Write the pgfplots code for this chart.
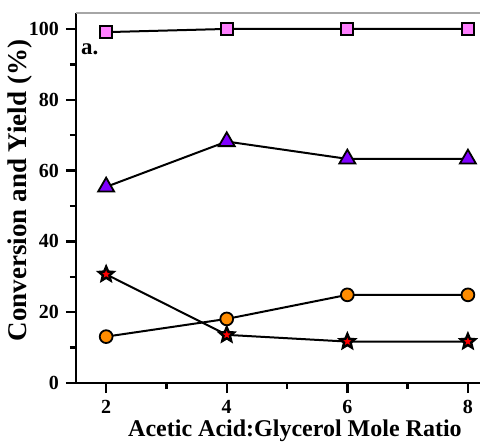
\documentclass[border=0pt]{standalone}
\usepackage{fontspec}
\setmainfont{Liberation Serif}
\usepackage{pgfplots}
\pgfplotsset{compat=1.18}
\definecolor{sqpink}{HTML}{FF80FF}
\definecolor{tripurple}{HTML}{8000FF}
\definecolor{circorange}{HTML}{FF8C00}
\pgfdeclareplotmark{fstar}{%
  \pgfpathmoveto{\pgfqpointpolar{90}{\pgfplotmarksize}}%
  \pgfpathlineto{\pgfqpointpolar{126}{0.45\pgfplotmarksize}}%
  \pgfpathlineto{\pgfqpointpolar{162}{\pgfplotmarksize}}%
  \pgfpathlineto{\pgfqpointpolar{198}{0.45\pgfplotmarksize}}%
  \pgfpathlineto{\pgfqpointpolar{234}{\pgfplotmarksize}}%
  \pgfpathlineto{\pgfqpointpolar{270}{0.45\pgfplotmarksize}}%
  \pgfpathlineto{\pgfqpointpolar{306}{\pgfplotmarksize}}%
  \pgfpathlineto{\pgfqpointpolar{342}{0.45\pgfplotmarksize}}%
  \pgfpathlineto{\pgfqpointpolar{18}{\pgfplotmarksize}}%
  \pgfpathlineto{\pgfqpointpolar{54}{0.45\pgfplotmarksize}}%
  \pgfpathclose
  \pgfusepathqfillstroke}
\begin{document}
\begin{tikzpicture}
\begin{axis}[
  scale only axis, width=202pt, height=185pt,
  xmin=1.5, xmax=8.2, ymin=0, ymax=104.5,
  axis x line*=bottom, axis y line*=left,
  axis line style={line width=1.2pt, -},
  xtick={2,4,6,8}, ytick={0,20,40,60,80,100},
  minor x tick num=1, minor y tick num=1,
  tick align=outside,
  major tick length=5pt, minor tick length=3pt,
  every tick/.style={black, line width=1.2pt},
  /pgf/number format/assume math mode=true,
  ticklabel style={font=\bfseries\fontsize{10}{12}\selectfont},
  xlabel={Acetic Acid:Glycerol Mole Ratio},
  ylabel={Conversion and Yield (\%)},
  xlabel style={font=\bfseries\fontsize{12}{14}\selectfont, at={(axis description cs:0.542,-0.13)}, anchor=center},
  ylabel style={font=\bfseries\fontsize{13.5}{15}\selectfont, at={(axis description cs:-0.138,0.52)}, anchor=center},
  clip=false,
]
\coordinate (sw) at (rel axis cs:0,0);
\coordinate (ne) at (rel axis cs:1,1);
\draw[gray!70, line width=0.6pt] (rel axis cs:0,1) -- (rel axis cs:1,1);
\addplot[black, line width=1pt, mark=square*, mark size=3pt, mark options={fill=sqpink, draw=black, line width=0.9pt}]
  coordinates {(2,99.1) (4,100) (6,100) (8,100)};
\addplot[black, line width=1pt, mark=triangle*, mark size=4.6pt, mark options={fill=tripurple, draw=black, line width=0.9pt}]
  coordinates {(2,55.4) (4,68.2) (6,63.3) (8,63.3)};
\addplot[black, line width=1pt, mark=*, mark size=3.2pt, mark options={fill=circorange, draw=black, line width=0.9pt}]
  coordinates {(2,13.1) (4,18.1) (6,24.9) (8,24.9)};
\addplot[black, line width=1pt, mark=fstar, mark size=3.8pt, mark options={fill=red, draw=black, line width=1.2pt}]
  coordinates {(2,30.7) (4,13.6) (6,11.7) (8,11.7)};
\node[font=\bfseries\fontsize{11.5}{13}\selectfont, anchor=center] at (axis cs:1.73,94.4) {a.};
\end{axis}
\pgfresetboundingbox
\path ([xshift=-38pt,yshift=-29pt]sw) rectangle ([yshift=6.5pt]ne);
\end{tikzpicture}
\end{document}
